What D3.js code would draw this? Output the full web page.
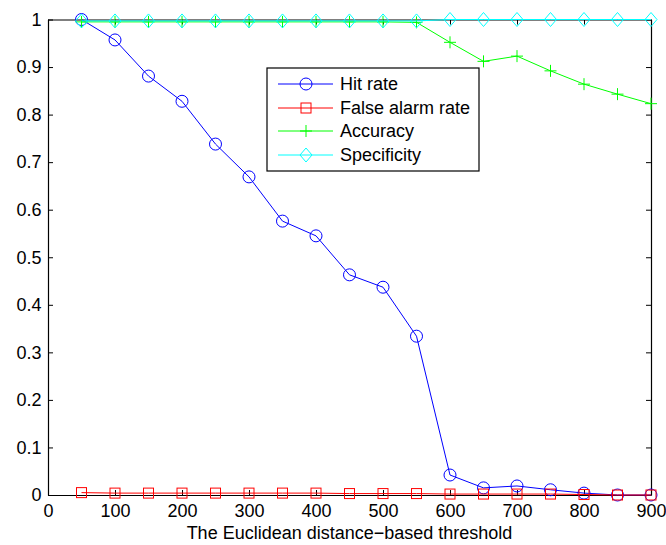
<!DOCTYPE html>
<html><head><meta charset="utf-8">
<script src="https://cdn.jsdelivr.net/npm/d3@7"></script>
<style>body{margin:0;background:#fff}svg{display:block}text{font-family:"Liberation Sans",Arial,Helvetica,sans-serif;fill:#000}</style>
</head><body>
<script>
const thresholds = [50,100,150,200,250,300,350,400,450,500,550,600,650,700,750,800,850,900];
const hitRate = [1.0,0.957,0.881,0.828,0.738,0.669,0.576,0.545,0.463,0.437,0.334,0.042,0.015,0.019,0.011,0.004,0.0,0.0];
const falseAlarmRate = [0.005,0.004,0.004,0.004,0.004,0.004,0.004,0.004,0.003,0.003,0.003,0.002,0.002,0.002,0.002,0.001,0.0,0.0];
const accuracy = [0.995,0.995,0.995,0.995,0.995,0.995,0.995,0.995,0.995,0.995,0.994,0.952,0.912,0.923,0.892,0.864,0.843,0.823];
const specificity = [0.997,0.997,0.997,0.997,0.997,0.997,0.997,0.997,0.997,0.997,0.997,1.0,1.0,1.0,1.0,1.0,1.0,1.0];
const xTicks = [0,100,200,300,400,500,600,700,800,900];
const yTicks = [0,0.1,0.2,0.3,0.4,0.5,0.6,0.7,0.8,0.9,1];
const seriesNames = ["Hit rate","False alarm rate","Accuracy","Specificity"];
const seriesColors = ["#0000ff","#ff0000","#00ff00","#00ffff"];
const seriesMarkers = ["circle","square","plus","diamond"];
const xLabel = "The Euclidean distance\u2212based threshold";

const W=666,H=545;
const m={l:48,r:15,t:19.5,b:50};
const svg=d3.select("body").append("svg").attr("width",W).attr("height",H);
const x=d3.scaleLinear().domain([0,900]).range([m.l,W-m.r]);
const y=d3.scaleLinear().domain([0,1]).range([H-m.b,m.t]);

const series=[hitRate,falseAlarmRate,accuracy,specificity];

const fs=18;
const tl=5;
const gx=svg.append("g").attr("transform",`translate(0,${y(0)})`)
 .call(d3.axisBottom(x).tickValues(xTicks).tickSizeInner(-tl).tickSizeOuter(0).tickFormat(d3.format("d")));
const gxt=svg.append("g").attr("transform",`translate(0,${y(1)})`)
 .call(d3.axisTop(x).tickValues(xTicks).tickSizeInner(-tl).tickSizeOuter(0).tickFormat(""));
const gy=svg.append("g").attr("transform",`translate(${x(0)},0)`)
 .call(d3.axisLeft(y).tickValues(yTicks).tickSizeInner(-tl).tickSizeOuter(0).tickPadding(6.5).tickFormat(d=>d3.format("")(+d.toFixed(1))));
const gyr=svg.append("g").attr("transform",`translate(${x(900)},0)`)
 .call(d3.axisRight(y).tickValues(yTicks).tickSizeInner(-tl).tickSizeOuter(0).tickFormat(""));
[gx,gxt,gy,gyr].forEach(g=>{
  g.select(".domain").attr("stroke","#000").attr("stroke-width",1.2);
  g.selectAll(".tick line").attr("stroke","#000");
  g.selectAll("text").attr("font-size",fs).attr("font-family","Liberation Sans, Arial, sans-serif").attr("fill","#000");
});
gx.selectAll("text").attr("y",22).attr("dy",0);
svg.append("text").attr("x",(x(0)+x(900))/2).attr("y",539).attr("text-anchor","middle").attr("font-size",fs).text(xLabel);

function marker(g,type,cx,cy,color){
  if(type==="circle") g.append("circle").attr("cx",cx).attr("cy",cy).attr("r",6).attr("fill","none").attr("stroke",color);
  else if(type==="square") g.append("rect").attr("x",cx-5).attr("y",cy-5).attr("width",10).attr("height",10).attr("fill","none").attr("stroke",color);
  else if(type==="plus") g.append("path").attr("d",`M${cx-6},${cy}H${cx+6}M${cx},${cy-6}V${cy+6}`).attr("stroke",color).attr("fill","none");
  else if(type==="diamond") g.append("path").attr("d",`M${cx},${cy-7}L${cx+6},${cy}L${cx},${cy+7}L${cx-6},${cy}Z`).attr("stroke",color).attr("fill","none");
}

const line=d3.line().x(d=>x(d[0])).y(d=>y(d[1]));
series.forEach((vals,i)=>{
  const pts=thresholds.map((t,j)=>[t,vals[j]]);
  const g=svg.append("g");
  g.append("path").attr("d",line(pts)).attr("fill","none").attr("stroke",seriesColors[i]).attr("stroke-width",1);
  pts.forEach(p=>marker(g,seriesMarkers[i],x(p[0]),y(p[1]),seriesColors[i]));
});

const lg=svg.append("g");
lg.append("rect").attr("x",267).attr("y",68).attr("width",212).attr("height",103).attr("fill","#fff").attr("stroke","#000").attr("stroke-width",1.2);
const ly=[84,108,131,155];
seriesNames.forEach((n,i)=>{
  lg.append("line").attr("x1",278).attr("x2",333).attr("y1",ly[i]).attr("y2",ly[i]).attr("stroke",seriesColors[i]);
  marker(lg,seriesMarkers[i],306,ly[i],seriesColors[i]);
  lg.append("text").attr("x",340).attr("y",ly[i]).attr("dy","0.35em").attr("font-size",fs).text(n);
});
</script>
</body></html>
